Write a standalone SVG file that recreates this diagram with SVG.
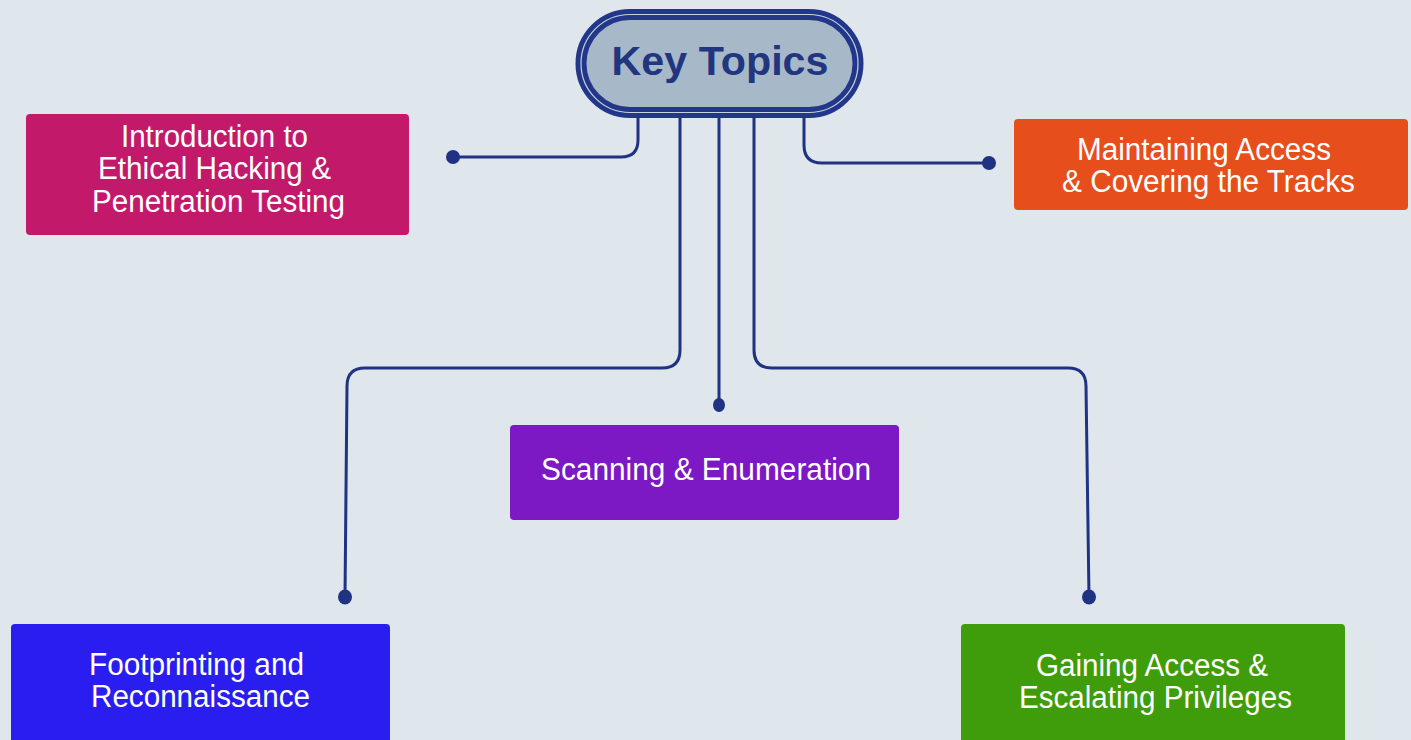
<svg xmlns="http://www.w3.org/2000/svg" width="1411" height="740" viewBox="0 0 1411 740">
  <style>
    .box-text { font-family: "Liberation Sans", Arial, sans-serif; font-size: 31px; fill: #ffffff; text-anchor: middle; }
    .link { fill: none; stroke: #1f3382; stroke-width: 3; stroke-linecap: round; }
    .dot { fill: #1f3382; }
  </style>
  <rect x="0" y="0" width="1411" height="740" fill="#dfe7ec"/>

  <!-- connectors from the hub to each topic -->
  <g id="connectors">
    <path class="link" d="M638 112 V140 Q638 157 621 157 H453"/>
    <path class="link" d="M680 112 V350 Q680 368 662 368 H365 Q347 368 347 386 L345 597"/>
    <path class="link" d="M719 112 V405"/>
    <path class="link" d="M754 112 V350 Q754 368 772 368 H1068 Q1086 368 1086 386 L1089 597"/>
    <path class="link" d="M804 112 V145 Q804 163 822 163 H989"/>
    <ellipse class="dot" cx="453" cy="157" rx="7" ry="7"/>
    <ellipse class="dot" cx="989" cy="163" rx="7" ry="7"/>
    <ellipse class="dot" cx="719" cy="405" rx="6" ry="7"/>
    <ellipse class="dot" cx="345" cy="597" rx="7" ry="7.5"/>
    <ellipse class="dot" cx="1089" cy="597" rx="7" ry="7.5"/>
  </g>

  <!-- central hub -->
  <g id="hub">
    <rect x="581" y="14.5" width="277" height="98" rx="49" fill="#a7b8c8" stroke="#22378a" stroke-width="11"/>
    <rect x="581" y="14.5" width="277" height="98" rx="49" fill="none" stroke="#c7d2df" stroke-width="1.2"/>
    <text x="720" y="75" font-family="'Liberation Sans', Arial, sans-serif" font-size="41" font-weight="bold" fill="#22367f" text-anchor="middle" textLength="217" lengthAdjust="spacingAndGlyphs">Key Topics</text>
  </g>

  <g id="intro">
    <rect x="26" y="114" width="383" height="121" rx="4" fill="#c2196b"/>
    <text class="box-text" x="214.5" y="147" textLength="187" lengthAdjust="spacingAndGlyphs">Introduction to</text>
    <text class="box-text" x="214.5" y="179" textLength="233" lengthAdjust="spacingAndGlyphs">Ethical Hacking &amp;</text>
    <text class="box-text" x="218.5" y="212" textLength="253" lengthAdjust="spacingAndGlyphs">Penetration Testing</text>
  </g>

  <g id="maintaining">
    <rect x="1014" y="119" width="394" height="91" rx="4" fill="#e64e1c"/>
    <text class="box-text" x="1204" y="160" textLength="254" lengthAdjust="spacingAndGlyphs">Maintaining Access</text>
    <text class="box-text" x="1208.5" y="192" textLength="293" lengthAdjust="spacingAndGlyphs">&amp; Covering the Tracks</text>
  </g>

  <g id="scanning">
    <rect x="510" y="425" width="389" height="95" rx="4" fill="#7c18c4"/>
    <text class="box-text" x="706" y="480" textLength="330" lengthAdjust="spacingAndGlyphs">Scanning &amp; Enumeration</text>
  </g>

  <g id="footprinting">
    <rect x="11" y="624" width="379" height="130" rx="4" fill="#2a1def"/>
    <text class="box-text" x="196.5" y="675" textLength="215" lengthAdjust="spacingAndGlyphs">Footprinting and</text>
    <text class="box-text" x="200.5" y="707" textLength="219" lengthAdjust="spacingAndGlyphs">Reconnaissance</text>
  </g>

  <g id="gaining">
    <rect x="961" y="624" width="384" height="130" rx="4" fill="#3f9c0a"/>
    <text class="box-text" x="1152" y="676" textLength="232" lengthAdjust="spacingAndGlyphs">Gaining Access &amp;</text>
    <text class="box-text" x="1155.5" y="708" textLength="273" lengthAdjust="spacingAndGlyphs">Escalating Privileges</text>
  </g>
</svg>
